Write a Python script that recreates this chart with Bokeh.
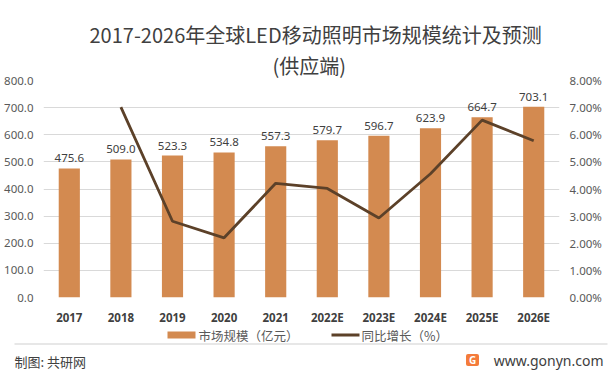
from bokeh.plotting import figure
from bokeh.layouts import column
from bokeh.models import (Range1d, LinearAxis, FactorRange, PrintfTickFormatter,
                          FixedTicker, Title, ColumnDataSource)
from bokeh.embed import file_html
from bokeh.resources import INLINE
from bokeh.core.properties import value

years = ["2017", "2018", "2019", "2020", "2021", "2022E", "2023E", "2024E", "2025E", "2026E"]
market = [475.6, 509.0, 523.3, 534.8, 557.3, 579.7, 596.7, 623.9, 664.7, 703.1]
growth_years = ["2018", "2019", "2020", "2021", "2022E", "2023E", "2024E", "2025E", "2026E"]
growth = [7.02, 2.81, 2.20, 4.21, 4.02, 2.93, 4.56, 6.54, 5.78]
left_ticks = [0, 100, 200, 300, 400, 500, 600, 700, 800]
right_ticks = [0, 1, 2, 3, 4, 5, 6, 7, 8]

title1 = "2017-2026年全球LED移动照明市场规模统计及预测"
title2 = "(供应端)"
bar_name = "市场规模（亿元）"
line_name = "同比增长（%）"
source_text = "制图: 共研网"
site_text = "www.gonyn.com"

CJK = "Noto Sans CJK SC"
NUM = "Noto Sans"
BAR = "#D38A50"
LINE = "#5C4129"
TXT = "#595959"
W = 615
H_MAIN = 327
H_FOOT = 44

# ---------------- main chart ----------------
p = figure(width=W, height=H_MAIN, x_range=FactorRange(*years, range_padding=0),
           y_range=Range1d(0, 800), output_backend="svg", toolbar_location=None,
           min_border_left=43, min_border_right=56, min_border_top=80, min_border_bottom=28)
p.frame_align = False
p.extra_y_ranges = {"pct": Range1d(0, 8)}
p.outline_line_color = None

bsrc = ColumnDataSource(dict(x=years, y=market, t=[f"{v:.1f}" for v in market]))
p.vbar(x="x", top="y", width=0.41, source=bsrc, fill_color=BAR, line_color=None)
p.text(x="x", y="y", text="t", source=bsrc, text_align="center", text_baseline="bottom",
       y_offset=-6, text_font=value(NUM), text_font_size="11.5px", text_color="#404040")

lsrc = ColumnDataSource(dict(x=growth_years, y=growth))
p.line(x="x", y="y", source=lsrc, y_range_name="pct", line_color=LINE, line_width=2.8)

p.xgrid.grid_line_color = None
p.ygrid.grid_line_color = "#D9D9D9"
p.ygrid.ticker = FixedTicker(ticks=left_ticks)

ax = p.yaxis[0]
ax.ticker = FixedTicker(ticks=left_ticks)
ax.formatter = PrintfTickFormatter(format="%.1f")

ry = LinearAxis(y_range_name="pct", ticker=FixedTicker(ticks=right_ticks),
                formatter=PrintfTickFormatter(format="%.2f%%"))
p.add_layout(ry, "right")

xa = p.xaxis[0]
for a in [ax, ry, xa]:
    a.axis_line_color = None
    a.major_tick_line_color = None
    a.minor_tick_line_color = None
    a.major_tick_out = 0
    a.major_tick_in = 0
    a.minor_tick_out = 0
    a.major_label_text_font = NUM
    a.major_label_text_font_size = "11.5px"
    a.major_label_text_color = TXT
ax.major_label_standoff = 10
ry.major_label_standoff = 10
xa.major_label_text_font_style = "bold"
xa.major_label_text_color = "#404040"
xa.major_label_standoff = 12

# outer title line (title1) and inner line (title2, next to the frame)
p.title.text = title1
p.title.align = "left"
p.title.offset = 46
p.title.standoff = -3
p.title.text_font = CJK
p.title.text_font_size = "20px"
p.title.text_font_style = "normal"
p.title.text_color = "#404040"
p.add_layout(Title(text=title2, align="left", offset=229, standoff=2, text_font=CJK,
                   text_font_size="20px", text_font_style="normal",
                   text_color="#404040"), "above")

# ---------------- footer: legend + source ----------------
f = figure(width=W, height=H_FOOT, x_range=Range1d(0, W), y_range=Range1d(0, H_FOOT),
           output_backend="svg", toolbar_location=None, min_border=0,
           x_axis_type=None, y_axis_type=None)
f.frame_align = False
f.outline_line_color = None
f.grid.visible = False

# legend
f.rect(x=[181], y=[36.5], width=28, height=7, fill_color=BAR, line_color=None)
f.text(x=[198], y=[36.5], text=[bar_name], text_align="left", text_baseline="middle",
       text_font=value(CJK), text_font_size="12.5px", text_color=TXT)
f.line(x=[331, 359], y=[36.5, 36.5], line_color=LINE, line_width=2.8)
f.text(x=[361], y=[36.5], text=[line_name], text_align="left", text_baseline="middle",
       text_font=value(CJK), text_font_size="12.5px", text_color=TXT)

# separator
f.line(x=[14, 607], y=[27.5, 27.5], line_color="#CFCFCF", line_width=1.2)

# source / website
f.text(x=[14], y=[10.5], text=[source_text], text_align="left", text_baseline="middle",
       text_font=value(CJK), text_font_size="13px", text_color="#404040")
f.text(x=[603], y=[11.5], text=[site_text], text_align="right", text_baseline="middle",
       text_font=value(NUM), text_font_size="14px", text_color="#404040")
f.rect(x=[472], y=[11.5], width=13, height=12, fill_color="#F47B3B", line_color=None,
       border_radius=2)
f.text(x=[472], y=[11.5], text=["G"], text_align="center", text_baseline="middle",
       text_font=value(NUM), text_font_size="10px", text_font_style="bold",
       text_color="white")

layout = column(p, f, spacing=0)
open("out.html", "w").write(file_html(layout, INLINE))
